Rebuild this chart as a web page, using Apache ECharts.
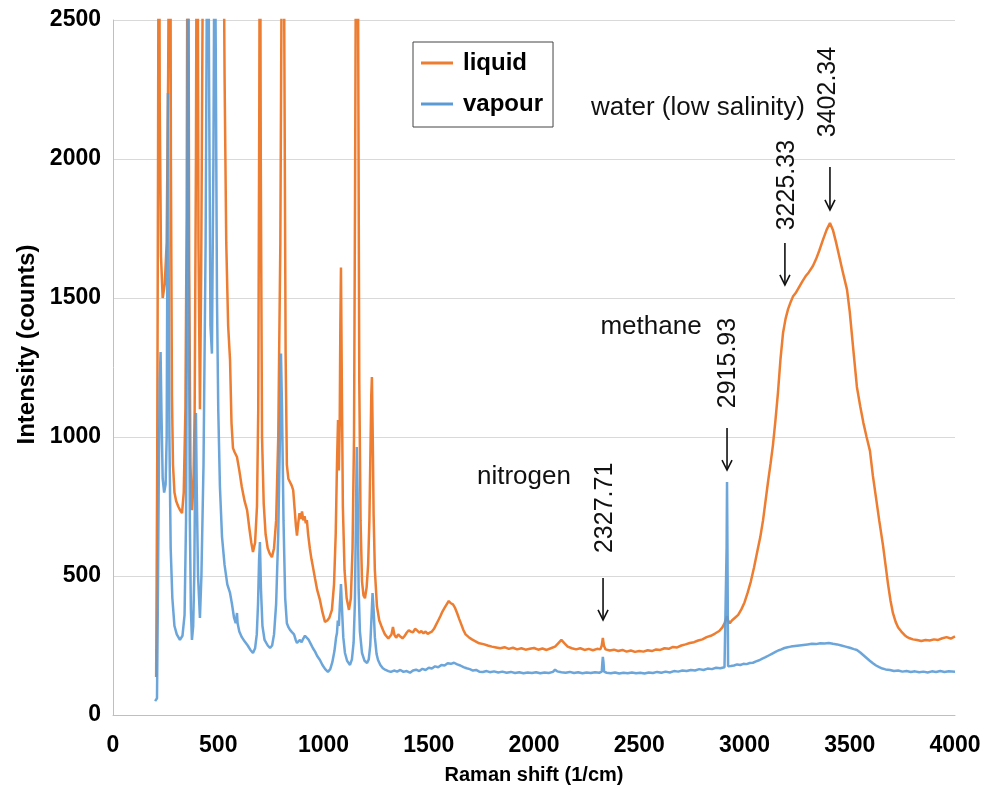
<!DOCTYPE html>
<html>
<head>
<meta charset="utf-8">
<title>Raman spectrum</title>
<script src="https://cdn.jsdelivr.net/npm/echarts@6/dist/echarts.min.js"></script>
<style>
    html, body {margin: 0; padding: 0; background: #fff;}
    #chart {width: 995px; height: 796px;}
</style>
</head>
<body>
<div id="chart"></div>
<script>
/* data: [Raman shift (1/cm), intensity (counts)] */
var liquid = [
    [205,137],[210,900],[214,2000],[218,3500],[222,2200],[228,1650],[236,1500],[246,1550],[255,1700],[262,2300],[267,3000],[271,3600],[275,2000],[280,1150],[285,900],[292,800],[300,770],[310,750],[320,735],[328,726],[336,800],[344,1100],[350,1800],[356,3600],[362,1600],[368,900],[375,737],[382,820],[388,1100],[394,2000],[400,3600],[406,1700],[413,1100],[419,1600],[426,2600],[435,3600],[470,4200],[515,3800],[524,3000],[530,2300],[538,1700],[547,1400],[556,1277],[563,1050],[570,960],[578,945],[589,928],[600,880],[612,820],[625,770],[637,737],[648,670],[657,620],[665,586],[675,620],[684,750],[690,1100],[695,2200],[698,3300],[702,2000],[708,1000],[716,760],[725,650],[735,600],[745,580],[755,568],[765,600],[775,700],[785,1000],[795,1700],[802,2800],[808,3600],[814,2400],[820,1300],[826,900],[833,850],[841,845],[849,825],[856,809],[863,740],[869,680],[874,645],[880,690],[886,726],[892,705],[898,732],[904,700],[910,715],[916,690],[921,701],[927,650],[935,600],[943,560],[950,532],[960,490],[970,450],[983,414],[995,370],[1007,335],[1018,340],[1028,350],[1040,378],[1050,470],[1058,650],[1064,900],[1069,1061],[1073,880],[1077,1050],[1080,1400],[1083,1610],[1087,1200],[1092,750],[1100,520],[1110,420],[1121,378],[1130,420],[1138,600],[1145,1000],[1150,1900],[1155,3000],[1160,3600],[1165,2400],[1170,1200],[1176,700],[1183,480],[1190,430],[1197,420],[1205,460],[1212,540],[1218,700],[1223,950],[1227,1150],[1230,1216],[1234,1000],[1238,720],[1244,520],[1254,390],[1265,340],[1275,320],[1283,305],[1292,290],[1300,283],[1308,275],[1316,281],[1323,290],[1330,317],[1337,288],[1345,278],[1355,290],[1365,282],[1375,276],[1385,284],[1395,296],[1405,305],[1415,300],[1425,297],[1435,310],[1445,304],[1455,296],[1465,302],[1475,294],[1485,300],[1495,292],[1505,296],[1515,300],[1525,310],[1535,325],[1545,340],[1555,355],[1565,372],[1575,385],[1585,398],[1595,410],[1605,402],[1615,398],[1625,385],[1635,366],[1645,345],[1655,325],[1665,305],[1675,290],[1690,280],[1705,272],[1720,266],[1740,258],[1760,255],[1780,250],[1800,246],[1820,243],[1840,240],[1860,244],[1880,238],[1900,242],[1920,236],[1940,240],[1960,235],[1980,238],[2000,241],[2020,235],[2040,239],[2060,234],[2080,240],[2100,246],[2115,258],[2130,270],[2145,258],[2160,246],[2180,240],[2200,236],[2220,240],[2240,234],[2260,238],[2280,233],[2300,238],[2315,236],[2322,250],[2327,277],[2332,250],[2340,236],[2360,232],[2380,235],[2400,230],[2420,234],[2440,228],[2460,232],[2480,227],[2500,230],[2520,228],[2540,233],[2560,230],[2580,236],[2600,234],[2620,240],[2640,238],[2660,245],[2680,243],[2700,250],[2720,254],[2740,259],[2760,262],[2780,268],[2800,272],[2820,280],[2840,285],[2860,293],[2880,302],[2895,315],[2905,330],[2912,345],[2917,355],[2922,340],[2930,330],[2940,340],[2955,350],[2970,360],[2985,380],[3000,405],[3015,440],[3030,480],[3045,530],[3060,585],[3075,640],[3088,700],[3100,770],[3112,840],[3124,905],[3135,970],[3147,1060],[3159,1160],[3171,1280],[3183,1374],[3195,1425],[3207,1460],[3219,1485],[3230,1505],[3245,1520],[3260,1540],[3275,1560],[3290,1578],[3305,1592],[3325,1615],[3340,1640],[3355,1670],[3373,1710],[3390,1745],[3406,1770],[3420,1745],[3435,1700],[3450,1650],[3465,1600],[3487,1530],[3500,1450],[3515,1330],[3534,1180],[3550,1110],[3565,1050],[3580,1000],[3596,950],[3610,860],[3625,780],[3640,700],[3658,610],[3670,540],[3682,470],[3694,410],[3705,367],[3718,335],[3730,315],[3745,300],[3760,288],[3771,281],[3785,276],[3800,272],[3820,270],[3840,266],[3860,270],[3880,268],[3900,272],[3920,270],[3940,276],[3960,280],[3980,275],[4000,283]
];
var vapour = [
    [200,50],[205,52],[209,60],[213,400],[218,900],[222,1200],[226,1306],[230,1100],[236,850],[243,800],[250,830],[255,1000],[258,1600],[261,2237],[264,1700],[268,1000],[274,600],[282,420],[292,320],[303,290],[318,270],[330,285],[340,360],[347,700],[352,1600],[356,2800],[360,1600],[365,700],[370,380],[375,270],[381,320],[386,500],[390,850],[394,1086],[398,800],[404,500],[413,349],[420,500],[430,900],[440,1700],[447,2800],[452,3000],[457,2200],[463,1400],[470,1300],[477,2000],[483,3000],[488,2400],[494,1500],[500,1100],[508,820],[518,640],[530,540],[543,470],[556,439],[565,400],[575,350],[583,330],[587,330],[589,367],[592,330],[600,300],[612,280],[625,265],[640,250],[652,235],[665,223],[675,240],[683,290],[689,400],[694,560],[698,622],[703,450],[710,320],[720,270],[735,250],[746,241],[756,250],[765,290],[775,400],[785,650],[793,1000],[798,1300],[803,1100],[810,700],[818,420],[826,330],[834,315],[841,306],[850,298],[860,290],[868,270],[874,259],[880,265],[888,270],[896,262],[904,275],[912,285],[921,281],[930,270],[940,255],[950,240],[960,228],[970,212],[983,198],[995,180],[1008,165],[1021,155],[1032,165],[1042,190],[1052,230],[1060,280],[1064,295],[1068,340],[1073,320],[1078,400],[1083,471],[1088,380],[1094,280],[1102,223],[1112,195],[1126,180],[1135,200],[1143,260],[1149,400],[1154,700],[1158,964],[1162,800],[1167,450],[1173,300],[1183,223],[1195,195],[1207,187],[1215,200],[1222,250],[1228,350],[1233,439],[1238,380],[1244,280],[1252,220],[1259,198],[1270,180],[1282,168],[1295,162],[1308,158],[1320,155],[1335,160],[1350,156],[1365,162],[1380,155],[1395,158],[1411,152],[1425,160],[1440,163],[1455,158],[1470,166],[1485,162],[1500,170],[1515,167],[1530,175],[1545,172],[1560,180],[1575,178],[1590,186],[1605,184],[1620,188],[1635,182],[1650,178],[1665,172],[1680,168],[1695,165],[1710,160],[1725,162],[1740,156],[1757,155],[1775,158],[1790,154],[1810,157],[1830,153],[1850,156],[1870,152],[1890,155],[1910,151],[1930,154],[1950,150],[1970,153],[1990,151],[2010,154],[2030,150],[2050,153],[2070,151],[2090,155],[2100,163],[2110,157],[2130,154],[2150,152],[2170,155],[2190,151],[2210,154],[2230,150],[2250,153],[2270,151],[2290,154],[2310,152],[2322,156],[2325,190],[2327,209],[2330,190],[2333,156],[2345,152],[2365,150],[2385,153],[2405,149],[2425,152],[2445,150],[2465,153],[2485,150],[2505,152],[2525,149],[2545,153],[2565,151],[2585,155],[2605,152],[2625,156],[2645,153],[2665,158],[2685,156],[2705,160],[2725,158],[2745,162],[2765,160],[2785,165],[2805,162],[2825,167],[2845,165],[2865,170],[2885,168],[2905,172],[2912,175],[2915,600],[2917,838],[2919,600],[2922,175],[2935,176],[2950,178],[2965,182],[2980,180],[2995,184],[3010,183],[3025,187],[3040,188],[3055,193],[3070,197],[3085,203],[3100,208],[3115,214],[3130,220],[3145,226],[3160,232],[3175,236],[3190,241],[3205,244],[3220,246],[3240,248],[3260,250],[3280,252],[3300,254],[3320,256],[3340,255],[3360,258],[3380,257],[3400,259],[3420,256],[3440,254],[3460,250],[3480,246],[3500,242],[3520,237],[3534,234],[3550,225],[3565,215],[3580,205],[3595,195],[3610,186],[3625,178],[3640,172],[3655,167],[3670,164],[3691,162],[3710,158],[3730,160],[3750,156],[3770,158],[3790,155],[3810,157],[3830,154],[3850,156],[3870,153],[3890,157],[3910,155],[3930,158],[3950,155],[3970,157],[4000,156]
];
var xTicks = [0, 4000, 500];     // min, max, interval
var yTicks = [0, 2500, 500];

/* annotations, in data coordinates */
var notes = [
    {text: 'water (low salinity)', x: 2779, y: 2183, rotate: false},
    {text: '3402.34', x: 3397, y: 2241, rotate: true},
    {text: '3225.33', x: 3202, y: 1906, rotate: true},
    {text: 'methane', x: 2556, y: 1396, rotate: false},
    {text: '2915.93', x: 2922, y: 1266, rotate: true},
    {text: 'nitrogen', x: 1952, y: 856, rotate: false},
    {text: '2327.71', x: 2337, y: 745, rotate: true}
];
var arrows = [   // [x, y from, y to]
    [3406, 1971, 1817],
    [3192, 1698, 1547],
    [2917, 1032, 881],
    [2328, 493, 342]
];

var myChart = echarts.init(document.getElementById('chart'));
var font = 'Liberation Sans, Arial, sans-serif';

var options = {
    animation: false,
    textStyle: {fontFamily: font},
    grid: {left: 113, right: 40, top: 20, bottom: 81},
    legend: {
        orient: 'vertical',
        left: 413,
        top: 42,
        data: ['liquid', 'vapour'],
        icon: 'rect',
        itemWidth: 32,
        itemHeight: 3,
        itemGap: 17,
        padding: [9, 10, 11, 8],
        borderColor: '#444',
        borderWidth: 1,
        textStyle: {fontSize: 24, fontWeight: 'bold', color: '#000', padding: [0, 0, 0, 5]}
    },
    xAxis: {
        type: 'value',
        min: xTicks[0], max: xTicks[1], interval: xTicks[2],
        name: 'Raman shift (1/cm)',
        nameLocation: 'middle',
        nameGap: 60,
        nameTextStyle: {fontSize: 20, fontWeight: 'bold', color: '#000', verticalAlign: 'middle'},
        axisLine: {lineStyle: {color: '#bfbfbf', width: 1}},
        axisTick: {show: false},
        axisLabel: {
            fontSize: 23, fontWeight: 'bold', color: '#000', margin: 19,
            formatter: function (v) { return String(v); }
        },
        splitLine: {show: false}
    },
    yAxis: {
        type: 'value',
        min: yTicks[0], max: yTicks[1], interval: yTicks[2],
        name: 'Intensity (counts)',
        nameLocation: 'middle',
        nameGap: 83,
        nameTextStyle: {fontSize: 24, fontWeight: 'bold', color: '#000', verticalAlign: 'middle', padding: [0, 0, 0, 46]},
        axisLine: {show: true, lineStyle: {color: '#bfbfbf', width: 1}},
        axisTick: {show: false},
        axisLabel: {
            fontSize: 23, fontWeight: 'bold', color: '#000', margin: 12,
            formatter: function (v) { return String(v); }
        },
        splitLine: {lineStyle: {color: '#d9d9d9', width: 1}}
    },
    series: [
        {
            name: 'liquid',
            type: 'line',
            data: liquid,
            showSymbol: false,
            clip: true,
            color: '#ED7D31',
            lineStyle: {width: 2.5, color: '#ED7D31'}
        },
        {
            name: 'vapour',
            type: 'line',
            data: vapour,
            showSymbol: false,
            clip: true,
            color: '#5B9BD5',
            lineStyle: {width: 2.5, color: '#5B9BD5', opacity: 0.9}
        }
    ]
};
myChart.setOption(options);

/* text labels and arrows placed through the axes */
var graphics = [];
notes.forEach(function (n) {
    var p = myChart.convertToPixel({gridIndex: 0}, [n.x, n.y]);
    graphics.push({
        type: 'text',
        x: p[0], y: p[1],
        rotation: n.rotate ? Math.PI / 2 : 0,
        style: {
            text: n.text,
            fill: '#111',
            font: (n.rotate ? '25px ' : '26px ') + font,
            align: 'center',
            verticalAlign: 'middle'
        }
    });
});
arrows.forEach(function (a) {
    var p1 = myChart.convertToPixel({gridIndex: 0}, [a[0], a[1]]);
    var p2 = myChart.convertToPixel({gridIndex: 0}, [a[0], a[2]]);
    graphics.push({
        type: 'line',
        shape: {x1: p1[0], y1: p1[1], x2: p2[0], y2: p2[1]},
        style: {stroke: '#111', lineWidth: 1.6}
    });
    graphics.push({
        type: 'polyline',
        shape: {points: [[p2[0] - 5, p2[1] - 10], [p2[0], p2[1]], [p2[0] + 5, p2[1] - 10]]},
        style: {stroke: '#111', lineWidth: 1.6, fill: null}
    });
});
myChart.setOption({graphic: graphics});
</script>
</body>
</html>
